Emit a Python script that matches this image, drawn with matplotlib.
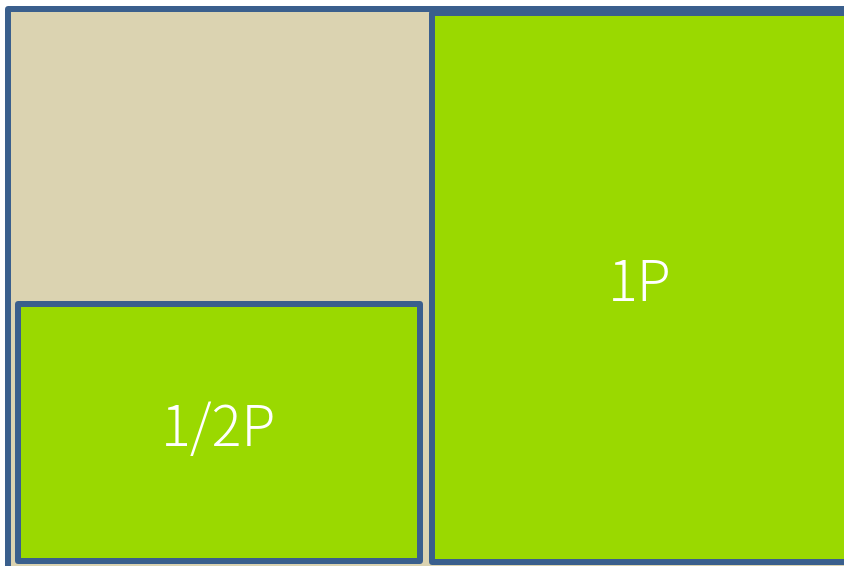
import matplotlib.pyplot as plt
from matplotlib.patches import Rectangle

labels = ['1/2P', '1P']
face_colors = ['#9AD900', '#9AD900']
edge_color = '#3A5F8D'
back_color = '#DBD3B1'

fig = plt.figure(figsize=(8.45, 5.66), dpi=100)
ax = fig.add_axes([0, 0, 1, 1])
ax.set_xlim(0, 845)
ax.set_ylim(566, 0)
ax.axis('off')

lw = 6 * 72 / 100

# outer background box (runs off the right and bottom edges)
ax.add_patch(Rectangle((8, 9), 880, 600, facecolor=back_color, edgecolor=edge_color,
                       linewidth=lw, joinstyle='round'))

# the two boxes: (x, y, w, h) in pixels
boxes = [(18, 304, 402.5, 256.5), (432, 13, 440, 549)]
for (x, y, w, h), lab, fc in zip(boxes, labels, face_colors):
    ax.add_patch(Rectangle((x, y), w, h, facecolor=fc, edgecolor=edge_color,
                           linewidth=lw, joinstyle='round'))

ax.text(219, 430, labels[0], color='white', fontsize=40, ha='center', va='center',
        family=['Noto Sans CJK JP', 'DejaVu Sans'], fontweight='light')
ax.text(640, 285, labels[1], color='white', fontsize=40, ha='center', va='center',
        family=['Noto Sans CJK JP', 'DejaVu Sans'], fontweight='light')

fig.savefig('out.png', dpi=100)
